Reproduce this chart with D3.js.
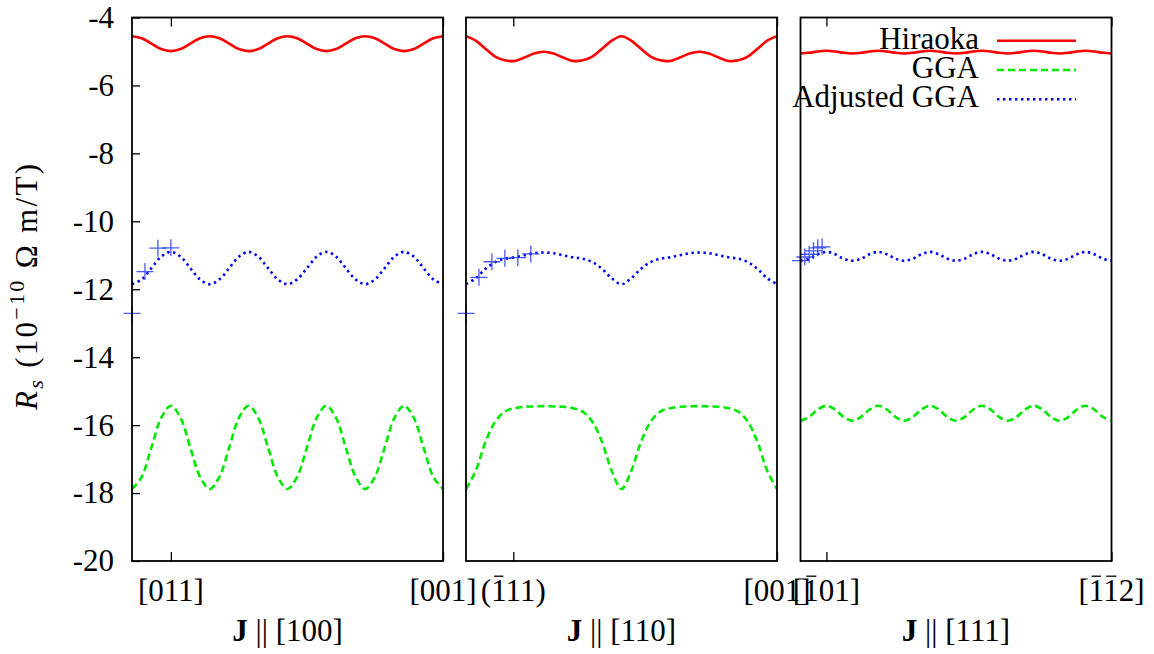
<!DOCTYPE html>
<html>
<head>
<meta charset="utf-8">
<script src="https://cdn.jsdelivr.net/npm/d3@7"></script>
<style>
  body { margin: 0; background: #fff; }
  svg { display: block; }
  text { font-family: "Liberation Serif", "Times New Roman", serif; fill: #000; }
</style>
</head>
<body>
<svg id="chart" width="1154" height="654"></svg>
<script>
// ---- Sampling angles (degrees) of the field rotation in each current direction ----
const angles100 = [0, 11.25, 22.5, 33.75, 45, 56.25, 67.5, 78.75, 90, 101.25, 112.5, 123.75, 135, 146.25, 157.5, 168.75,
  180, 191.25, 202.5, 213.75, 225, 236.25, 247.5, 258.75, 270, 281.25, 292.5, 303.75, 315, 326.25, 337.5, 348.75, 360];
const angles110 = angles100;
const angles111 = [0, 10, 20, 30, 40, 50, 60, 70, 80, 90, 100, 110, 120, 130, 140, 150, 160, 170,
  180, 190, 200, 210, 220, 230, 240, 250, 260, 270, 280, 290, 300, 310, 320, 330, 340, 350, 360];

// ---- R_s (10^-10 Ohm m / T), J || [100] ----
const hiraoka100 = [-4.55, -4.61, -4.77, -4.93, -4.99, -4.93, -4.77, -4.61, -4.55, -4.61, -4.77, -4.93, -4.99, -4.93, -4.77, -4.61,
  -4.55, -4.61, -4.77, -4.93, -4.99, -4.93, -4.77, -4.61, -4.55, -4.61, -4.77, -4.93, -4.99, -4.93, -4.77, -4.61, -4.55];
const gga100 = [-17.88, -17.52, -16.66, -15.79, -15.43, -15.79, -16.66, -17.52, -17.88, -17.52, -16.66, -15.79, -15.43, -15.79, -16.66, -17.52,
  -17.88, -17.52, -16.66, -15.79, -15.43, -15.79, -16.66, -17.52, -17.88, -17.52, -16.66, -15.79, -15.43, -15.79, -16.66, -17.52, -17.88];
const adjusted100 = [-11.85, -11.71, -11.38, -11.04, -10.90, -11.04, -11.38, -11.71, -11.85, -11.71, -11.38, -11.04, -10.90, -11.04, -11.38, -11.71,
  -11.85, -11.71, -11.38, -11.04, -10.90, -11.04, -11.38, -11.71, -11.85, -11.71, -11.38, -11.04, -10.90, -11.04, -11.38, -11.71, -11.85];
const expAngles100 = [0, 15, 30, 45];
const expValues100 = [-12.71, -11.48, -10.79, -10.78];

// ---- J || [110] ----
const hiraoka110 = [-4.55, -4.68, -4.92, -5.15, -5.26, -5.28, -5.18, -5.06, -5.01, -5.06, -5.18, -5.28, -5.26, -5.15, -4.92, -4.68,
  -4.55, -4.68, -4.92, -5.15, -5.26, -5.28, -5.18, -5.06, -5.01, -5.06, -5.18, -5.28, -5.26, -5.15, -4.92, -4.68, -4.55];
const gga110 = [-17.88, -17.35, -16.50, -15.90, -15.60, -15.50, -15.46, -15.45, -15.44, -15.45, -15.46, -15.50, -15.60, -15.90, -16.50, -17.35,
  -17.88, -17.35, -16.50, -15.90, -15.60, -15.50, -15.46, -15.45, -15.44, -15.45, -15.46, -15.50, -15.60, -15.90, -16.50, -17.35, -17.88];
const adjusted110 = [-11.85, -11.68, -11.40, -11.20, -11.10, -11.06, -11.00, -10.94, -10.92, -10.94, -11.00, -11.06, -11.10, -11.20, -11.40, -11.68,
  -11.85, -11.68, -11.40, -11.20, -11.10, -11.06, -11.00, -10.94, -10.92, -10.94, -11.00, -11.06, -11.10, -11.20, -11.40, -11.68, -11.85];
const expAngles110 = [0, 15, 30, 45, 60, 75];
const expValues110 = [-12.71, -11.65, -11.19, -11.09, -11.07, -10.96];

// ---- J || [111] ----
const hiraoka111 = [-5.06, -5.04, -5.00, -4.98, -5.00, -5.04, -5.06, -5.04, -5.00, -4.98, -5.00, -5.04, -5.06, -5.04, -5.00, -4.98, -5.00, -5.04,
  -5.06, -5.04, -5.00, -4.98, -5.00, -5.04, -5.06, -5.04, -5.00, -4.98, -5.00, -5.04, -5.06, -5.04, -5.00, -4.98, -5.00, -5.04, -5.06];
const gga111 = [-15.87, -15.76, -15.54, -15.43, -15.54, -15.76, -15.87, -15.76, -15.54, -15.43, -15.54, -15.76, -15.87, -15.76, -15.54, -15.43, -15.54, -15.76,
  -15.87, -15.76, -15.54, -15.43, -15.54, -15.76, -15.87, -15.76, -15.54, -15.43, -15.54, -15.76, -15.87, -15.76, -15.54, -15.43, -15.54, -15.76, -15.87];
const adjusted111 = [-11.16, -11.10, -10.97, -10.90, -10.97, -11.10, -11.16, -11.10, -10.97, -10.90, -10.97, -11.10, -11.16, -11.10, -10.97, -10.90, -10.97, -11.10,
  -11.16, -11.10, -10.97, -10.90, -10.97, -11.10, -11.16, -11.10, -10.97, -10.90, -10.97, -11.10, -11.16, -11.10, -10.97, -10.90, -10.97, -11.10, -11.16];
const expAngles111 = [0, 5, 10, 15, 20, 25];
const expValues111 = [-11.16, -11.05, -10.97, -10.87, -10.78, -10.75];

// ---- Axis ticks and labels ('-' before a character marks an overbar) ----
const yTicks = [-20, -18, -16, -14, -12, -10, -8, -6, -4];
const tickAngles100 = [45, 360];
const tickLabels100 = ["[011]", "[001]"];
const tickAngles110 = [54.74, 360];
const tickLabels110 = ["(-111)", "[001]"];
const tickAngles111 = [30, 360];
const tickLabels111 = ["[-101]", "[-1-12]"];
const panelTitles = ["[100]", "[110]", "[111]"];
const seriesNames = ["Hiraoka", "GGA", "Adjusted GGA"];
const seriesColors = ["#ff0000", "#00e800", "#0000ff"];

// ---- Layout ----
const svg = d3.select("#chart");
const FS = 31;
const plotTop = 17.5, plotBottom = 561;
const panelLefts = [132, 466, 800.5];
const panelWidth = 311;
const y = d3.scaleLinear().domain([-20, -4]).range([plotBottom, plotTop]);

const panels = [
  { angles: angles100, series: [hiraoka100, gga100, adjusted100], expA: expAngles100, expV: expValues100,
    ticks: tickAngles100, labels: tickLabels100, title: panelTitles[0] },
  { angles: angles110, series: [hiraoka110, gga110, adjusted110], expA: expAngles110, expV: expValues110,
    ticks: tickAngles110, labels: tickLabels110, title: panelTitles[1] },
  { angles: angles111, series: [hiraoka111, gga111, adjusted111], expA: expAngles111, expV: expValues111,
    ticks: tickAngles111, labels: tickLabels111, title: panelTitles[2] }
];

const dashes = [null, "7,4", "2.4,3.6"];

// Draws a label, turning '-' markers into overbars on the following character.
function barredText(g, str, x, yb, size) {
  const chars = [], bars = [];
  for (let i = 0; i < str.length; i++) {
    if (str[i] === "-" && i + 1 < str.length) { bars.push(chars.length); continue; }
    chars.push(str[i]);
  }
  const t = g.append("text").attr("x", x).attr("y", yb).attr("text-anchor", "middle")
    .attr("font-size", size).text(chars.join(""));
  const node = t.node();
  bars.forEach(i => {
    const s = node.getStartPositionOfChar(i), e = node.getEndPositionOfChar(i);
    const w = e.x - s.x;
    g.append("line")
      .attr("x1", s.x + w * 0.2).attr("x2", e.x - w * 0.15)
      .attr("y1", yb - size * 0.8).attr("y2", yb - size * 0.8)
      .attr("stroke", "#000").attr("stroke-width", 1.3);
  });
}

panels.forEach((p, pi) => {
  const x0 = panelLefts[pi];
  const x = d3.scaleLinear().domain([0, 360]).range([x0, x0 + panelWidth]);
  const g = svg.append("g");

  const clipId = "clip" + pi;
  svg.append("clipPath").attr("id", clipId).append("rect")
    .attr("x", x0).attr("y", plotTop).attr("width", panelWidth).attr("height", plotBottom - plotTop);

  // curves
  const line = d3.line().x(d => x(d[0])).y(d => y(d[1])).curve(d3.curveCatmullRom.alpha(0.5));
  p.series.forEach((vals, si) => {
    const pts = p.angles.map((a, k) => [a, vals[k]]);
    g.append("path").attr("d", line(pts)).attr("clip-path", `url(#${clipId})`)
      .attr("fill", "none").attr("stroke", seriesColors[si]).attr("stroke-width", 2.6)
      .attr("stroke-dasharray", dashes[si]);
  });

  // measured points (crosses)
  const cs = 8.5;
  p.expA.forEach((a, k) => {
    const cx = x(a), cy = y(p.expV[k]);
    g.append("path").attr("d", `M${cx - cs},${cy}H${cx + cs}M${cx},${cy - cs}V${cy + cs}`)
      .attr("stroke", "#2a3cf0").attr("stroke-width", 1.3).attr("stroke-opacity", 0.85).attr("fill", "none");
  });

  // frame
  g.append("rect").attr("x", x0).attr("y", plotTop).attr("width", panelWidth).attr("height", plotBottom - plotTop)
    .attr("fill", "none").attr("stroke", "#000").attr("stroke-width", 1.8);

  // x ticks (inward, top and bottom)
  const axB = g.append("g").attr("transform", `translate(0,${plotBottom})`)
    .call(d3.axisBottom(x).tickValues(p.ticks).tickSize(-9).tickFormat(""));
  const axT = g.append("g").attr("transform", `translate(0,${plotTop})`)
    .call(d3.axisTop(x).tickValues(p.ticks).tickSize(-9).tickFormat(""));
  [axB, axT].forEach(a => {
    a.select(".domain").remove();
    a.selectAll(".tick line").attr("stroke", "#000").attr("stroke-width", 1.3);
  });

  // x tick labels
  p.ticks.forEach((a, k) => barredText(g, p.labels[k], x(a), 601, FS));

  // panel axis title: J || [hkl]
  const tt = g.append("text").attr("x", x0 + panelWidth / 2).attr("y", 641).attr("text-anchor", "middle")
    .attr("font-size", FS);
  tt.append("tspan").attr("font-weight", "bold").text("J");
  tt.append("tspan").text(" || " + p.title);

  // y axis only on the first panel
  if (pi === 0) {
    const ay = g.append("g").attr("transform", `translate(${x0},0)`)
      .call(d3.axisLeft(y).tickValues(yTicks).tickSize(-8).tickPadding(18).tickFormat(d => String(d)));
    ay.select(".domain").remove();
    ay.selectAll(".tick line").attr("stroke", "#000").attr("stroke-width", 1.3);
    ay.selectAll(".tick text").attr("font-size", FS)
      .attr("font-family", '"Liberation Serif", "Times New Roman", serif').attr("fill", "#000");
  }
});

// y axis title
const yt = svg.append("text").attr("transform", "translate(37,287) rotate(-90)")
  .attr("text-anchor", "middle").attr("font-size", FS)
  .attr("textLength", 246).attr("lengthAdjust", "spacing");
yt.append("tspan").attr("font-style", "italic").text("R");
yt.append("tspan").attr("font-style", "italic").attr("font-size", 22).attr("dy", 6).text("s");
yt.append("tspan").attr("dy", -6).text(" (10");
yt.append("tspan").attr("font-size", 22).attr("dy", -13).text("\u221210");
yt.append("tspan").attr("dy", 13).text(" \u03A9 m/T)");

// legend
const legendLineY = [40.7, 70, 99.3];
const lg = svg.append("g");
seriesNames.forEach((name, i) => {
  lg.append("text").attr("x", 979).attr("y", legendLineY[i] + 8).attr("text-anchor", "end")
    .attr("font-size", FS).text(name);
  lg.append("line").attr("x1", 997).attr("x2", 1076).attr("y1", legendLineY[i]).attr("y2", legendLineY[i])
    .attr("stroke", seriesColors[i]).attr("stroke-width", 2.6).attr("stroke-dasharray", dashes[i]);
});
</script>
</body>
</html>
